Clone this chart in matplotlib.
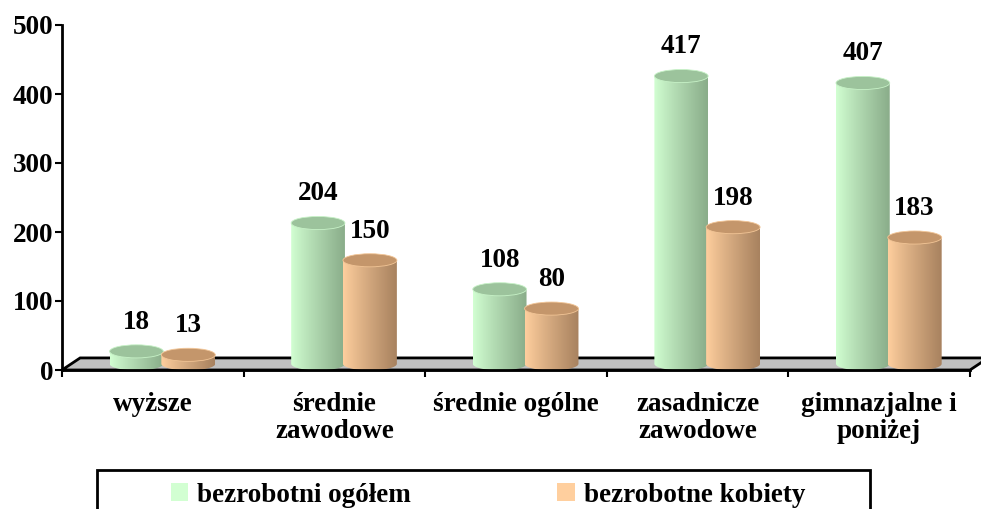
import numpy as np
import matplotlib
matplotlib.use('Agg')
import matplotlib.pyplot as plt
from matplotlib.patches import Polygon, Ellipse, Rectangle, Patch, PathPatch
from matplotlib.path import Path
from matplotlib.colors import to_rgb

categories = ['wyższe', 'średnie\nzawodowe', 'średnie ogólne', 'zasadnicze\nzawodowe', 'gimnazjalne i\nponiżej']
ogolem = [18, 204, 108, 417, 407]
kobiety = [13, 150, 80, 198, 183]
series_names = ['bezrobotni ogółem', 'bezrobotne kobiety']

plt.rcParams['font.family'] = ['Liberation Serif', 'DejaVu Serif']
plt.rcParams['font.weight'] = 'bold'
FS = 19.5

green = ('#d2ffd2', '#8aad8a', '#9cc39c')   # light side, dark side, top
orange = ('#ffcf9e', '#a8825f', '#c4966b')

fig = plt.figure(figsize=(9.81, 5.09), dpi=100)
ax = fig.add_axes([62 / 981, 139 / 509, 908 / 981, 345 / 509])
ax.set_xlim(-0.5, 4.5)
ax.set_ylim(0, 500)

# floor depth in data units
dx, dy = 0.1, 17.5
floor = Polygon([(-0.5, 0), (4.5, 0), (4.5 + dx, dy), (-0.5 + dx, dy)], closed=True,
                facecolor='#c0c0c0', edgecolor='black', lw=2, clip_on=False, zorder=1)
ax.add_patch(floor)

base = 9.0
ry = 9.5


def cylinder(x0, w, val, cols):
    xc = x0 + w / 2
    rx = w / 2
    yt = base + val
    t = np.linspace(np.pi, 2 * np.pi, 40)
    arc = np.column_stack([xc + rx * np.cos(t), base + ry * np.sin(t)])
    verts = np.vstack([[x0, yt], arc, [x0 + w, yt], [x0, yt]])
    outline = PathPatch(Path(verts, closed=True), facecolor='none', edgecolor='none', zorder=2)
    ax.add_patch(outline)
    c1, c2 = np.array(to_rgb(cols[0])), np.array(to_rgb(cols[1]))
    s = np.linspace(0, 1, 60) ** 0.9
    grad = (c1[None, :] * (1 - s[:, None]) + c2[None, :] * s[:, None])[None, :, :]
    im = ax.imshow(grad, extent=(x0, x0 + w, base - ry, yt), aspect='auto',
                   interpolation='bilinear', zorder=2)
    im.set_clip_path(outline)
    ax.add_patch(Ellipse((xc, yt), w, 2 * ry, facecolor=cols[2],
                         edgecolor=tuple(c1 * 0.95), lw=0.6, zorder=3))


for i in range(len(categories)):
    cylinder(i - 0.238, 0.296, ogolem[i], green)
    ax.annotate(str(ogolem[i]), (i - 0.09, base + ogolem[i]), xytext=(0, 21),
                textcoords='offset points', ha='center', va='center', fontsize=FS,
                fontweight='bold', zorder=5)
for i in range(len(categories)):
    cylinder(i + 0.047, 0.297, kobiety[i], orange)
    ax.annotate(str(kobiety[i]), (i + 0.195, base + kobiety[i]), xytext=(0, 21),
                textcoords='offset points', ha='center', va='center', fontsize=FS,
                fontweight='bold', zorder=5)

ax.set_xlim(-0.5, 4.5)
ax.set_ylim(0, 500)

for side in ['top', 'right']:
    ax.spines[side].set_visible(False)
ax.spines['left'].set_linewidth(2)
ax.spines['bottom'].set_linewidth(2)
ax.spines['bottom'].set_zorder(4)

ax.set_yticks(range(0, 501, 100))
ax.set_xticks(range(len(categories)))
ax.set_xticklabels(categories, linespacing=1.1, multialignment='center')
ax.set_xticks(np.arange(-0.5, 4.6, 1), minor=True)
ax.tick_params(axis='y', direction='out', length=5, width=1.5, pad=1, labelsize=FS)
ax.tick_params(axis='x', which='major', length=0, pad=16, labelsize=FS)
ax.tick_params(axis='x', which='minor', direction='out', length=5, width=1.5)
for lab in ax.get_xticklabels() + ax.get_yticklabels():
    lab.set_fontweight('bold')

# legend
handles = [Patch(facecolor=green[0], edgecolor='none'), Patch(facecolor=orange[0], edgecolor='none')]
fig.legend(handles, series_names, loc='upper left', bbox_to_anchor=(157 / 981, 1 - 469 / 509),
           ncol=2, frameon=False, borderpad=0, handlelength=0.65, handleheight=0.6,
           handletextpad=0.33, columnspacing=5.4, prop={'size': FS, 'weight': 'bold'})
fig.patches.append(Rectangle((97 / 981, -0.1), 773 / 981, 0.1 + 1 - 470 / 509,
                             transform=fig.transFigure, facecolor='none', edgecolor='black', lw=2))

fig.savefig('out.png', dpi=100)
